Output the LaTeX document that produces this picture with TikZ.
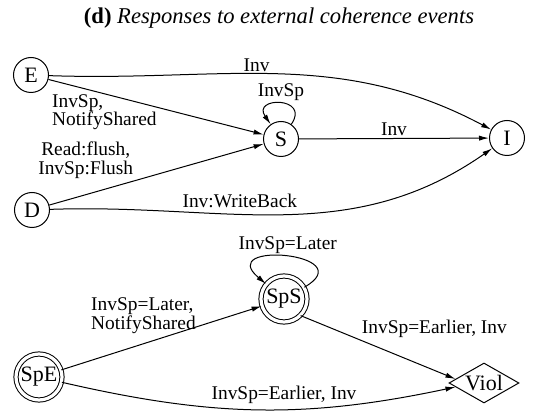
\documentclass[tikz,border=0pt]{standalone}
\usepackage{fontspec}
\setmainfont{Liberation Serif}
\usetikzlibrary{shapes.geometric,arrows.meta}

\begin{document}
\begin{tikzpicture}[x=0.5pt,y=-0.5pt,line width=0.5pt,
  >={Latex[length=5pt,width=2.6pt]},
  st/.style={circle,draw,minimum size=17.5pt,inner sep=0pt,
    font=\fontsize{11pt}{12pt}\selectfont},
  dst/.style={st,double,double distance=1.6pt,minimum size=23pt},
  vl/.style={diamond,draw,aspect=1.75,inner sep=0pt,minimum width=35pt,
    minimum height=20pt,font=\fontsize{11pt}{12pt}\selectfont},
  lbl/.style={inner sep=1pt,align=left,font=\fontsize{9.7pt}{9.4pt}\selectfont}]
  \useasboundingbox (0,0) rectangle (536,411);
  \node[font=\fontsize{11.3pt}{12pt}\selectfont] (title) at (279,18)
    {\textbf{(d)} \textit{Responses to external coherence events}};
  \node[st] (E) at (31,75) {E};
  \node[st] (S) at (281,139) {S};
  \node[st] (I) at (507,138) {I};
  \node[st] (D) at (32,210) {D};
  \node[dst] (SpE) at (39,377) {SpE};
  \node[dst] (SpS) at (284,299) {SpS};
  \node[vl] (Viol) at (484,383) {Viol};

  \draw[->] (E) to[out=-2,in=152] node[lbl,pos=0.45,above]{Inv} (I);
  \draw[->] (E) -- node[lbl,pos=0.26,anchor=north,yshift=1pt]{InvSp,\\NotifyShared} (S);
  \draw[->] (S) to[out=55,in=125,min distance=17pt] node[lbl,above]{InvSp} (S);
  \draw[->] (S) -- node[lbl,above]{Inv} (I);
  \draw[->] (D) -- node[lbl,pos=0.17,above=7pt,align=center]
    {Read:flush,\\InvSp:Flush} (S);
  \draw[->] (D) to[out=2,in=215] node[lbl,pos=0.4,above,yshift=2pt]{Inv:WriteBack} (I);

  \draw[->] (SpS) to[out=30,in=140,min distance=34pt]
    node[lbl,above]{InvSp=Later} (SpS);
  \draw[->] (SpE) -- node[lbl,pos=0.41,above=4pt]{InvSp=Later,\\NotifyShared} (SpS);
  \draw[->] (SpS.-45) -- node[lbl,pos=0.38,anchor=south west]
    {InvSp=Earlier, Inv} (Viol.172);
  \draw[->] (SpE) to[out=-13,in=192] node[lbl,pos=0.57,above,yshift=1.5pt]
    {InvSp=Earlier, Inv} (Viol.188);
\end{tikzpicture}
\end{document}
